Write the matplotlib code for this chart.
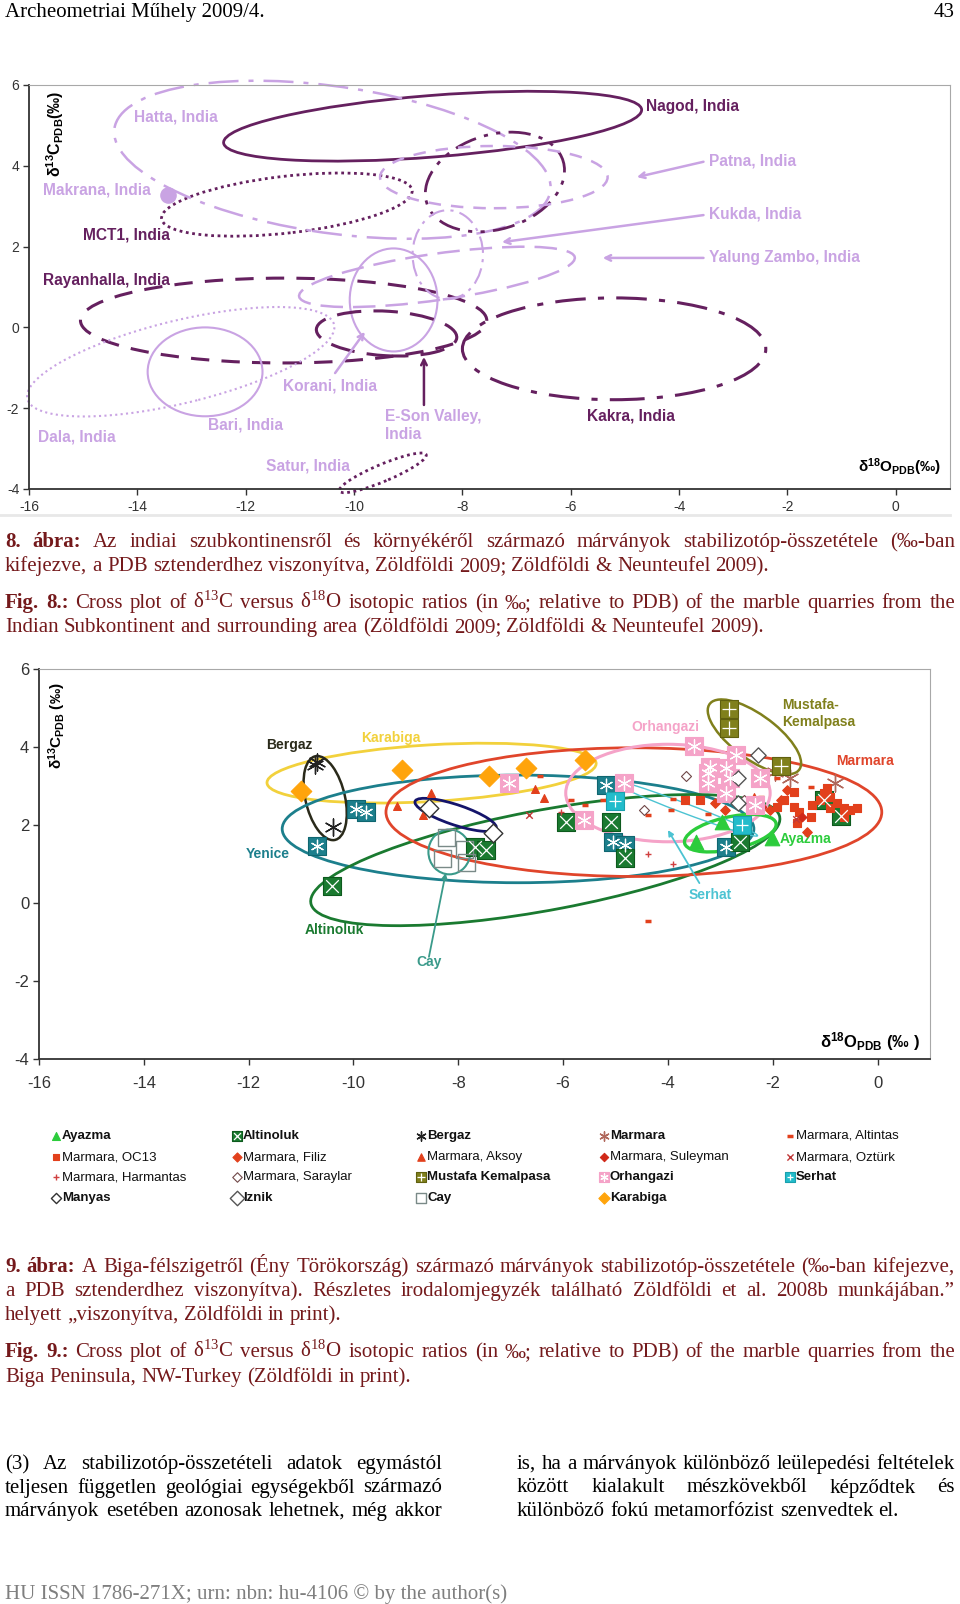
import matplotlib
matplotlib.use('Agg')
import matplotlib.pyplot as plt
from matplotlib.patches import Ellipse
from matplotlib.lines import Line2D

plt.rcParams['axes.unicode_minus'] = False
plt.rcParams['mathtext.default'] = 'regular'

SERIF = ['Liberation Serif', 'DejaVu Serif']
SANS = ['Liberation Sans', 'DejaVu Sans']
NARROW = ['Liberation Sans Narrow', 'Liberation Sans', 'DejaVu Sans']

# ---- Fig. 8 data: Indian quarries (ellipse fields, d18O / d13C) ----
ind_x = [-8.55, -11.24, -10.4, -11.3, -13.2, -12.75, -9.47, -9.27, -9.4, -5.2, -7.4, -7.42, -8.27, -8.47]
ind_y = [4.98, 3.04, 4.15, 0.17, -0.85, -1.1, -3.6, 0.68, -0.15, -0.53, 3.6, 3.72, 1.8, 1.25]
ind_w = [7.76, 4.68, 8.2, 7.5, 5.96, 2.12, 1.84, 1.62, 2.6, 5.6, 2.8, 4.2, 1.3, 5.18]
ind_h = [1.52, 1.4, 3.6, 2.1, 2.0, 2.2, 0.4, 2.55, 1.1, 2.52, 2.2, 1.54, 2.2, 1.14]
ind_ang = [6.2, 9, -12, 0, 19, 0, 30, 0, -5, 0, 40, 0, 0, 11]
makrana_x = [-13.44]
makrana_y = [3.28]

ind_labels = ['Hatta, India', 'Nagod, India', 'Patna, India', 'Makrana, India', 'Kukda, India',
              'MCT1, India', 'Yalung Zambo, India', 'Rayanhalla, India', 'Korani, India',
              'Bari, India', 'E-Son Valley,\nIndia', 'Kakra, India', 'Dala, India', 'Satur, India']

# ---- Fig. 9 data: Biga Peninsula quarries ----
ayazma_x = [-3.47, -2.96, -2.01]
ayazma_y = [1.56, 2.08, 1.67]
altinoluk_x = [-10.41, -7.69, -7.48, -5.94, -5.09, -4.82, -2.62, -1.02, -0.70]
altinoluk_y = [0.44, 1.44, 1.36, 2.08, 2.08, 1.15, 1.56, 2.64, 2.23]
bergaz_x = [-10.73, -10.70, -10.39]
bergaz_y = [3.54, 3.62, 1.95]
yenice_x = [-9.95, -9.76, -10.70, -5.18, -5.05, -4.82, -2.90]
yenice_y = [2.41, 2.33, 1.46, 3.03, 1.56, 1.49, 1.44]
marmara_x = [-1.67, -0.81, -1.95]
marmara_y = [3.21, 3.08, 3.35]
altintas_x = [-6.44, -5.85, -5.58, -5.24, -3.95, -3.91, -4.38, -3.24, -2.22, -1.91, -1.28, -4.38]
altintas_y = [3.26, 2.64, 2.51, 2.64, 2.38, 2.67, -0.46, 2.28, 2.72, 3.21, 2.97, 2.26]
oc13_x = [-3.68, -3.38, -1.59, -1.49, -1.25, -1.1, -1.02, -0.9, -0.77, -0.64, -0.52, -0.39,
          -0.9, -0.96, -1.28, -1.53, -1.78, -1.91, -1.59, -0.64]
oc13_y = [2.64, 2.64, 2.46, 2.33, 2.51, 2.64, 2.82, 2.72, 2.56, 2.44, 2.38, 2.44,
          2.44, 2.95, 2.21, 2.05, 2.64, 2.46, 2.85, 2.21]
filiz_x = [-2.92, -3.11, -1.34, -1.72, -2.05, -1.85]
filiz_y = [2.38, 2.56, 1.82, 2.9, 2.38, 2.64]
aksoy_x = [-8.53, -9.17, -8.68, -6.53, -6.36, -2.35]
aksoy_y = [2.82, 2.49, 2.26, 2.92, 2.69, 2.72]
suleyman_x = [-2.2, -1.45]
suleyman_y = [2.45, 2.2]
ozturk_x = [-6.65, -1.55]
ozturk_y = [2.26, 2.15]
harmantas_x = [-4.38, -3.91, -6.04]
harmantas_y = [1.26, 1.0, 2.33]
saraylar_x = [-4.46, -3.66, -2.54]
saraylar_y = [2.38, 3.26, 2.64]
mustafa_x = [-2.84, -2.84, -1.84]
mustafa_y = [4.97, 4.49, 3.51]
orhangazi_x = [-7.03, -5.6, -4.84, -3.51, -2.71, -3.24, -2.90, -3.24, -2.90, -2.81, -2.25, -2.33, -3.19]
orhangazi_y = [3.08, 2.13, 3.08, 4.03, 3.79, 3.33, 3.46, 3.08, 2.82, 3.21, 3.21, 2.51, 3.49]
serhat_x = [-5.01, -2.58]
serhat_y = [2.62, 2.0]
manyas_x = [-8.55, -7.33]
manyas_y = [2.44, 1.79]
iznik_x = [-2.29, -2.67, -2.67]
iznik_y = [3.79, 3.21, 2.56]
cay_x = [-8.22, -8.3, -7.88, -7.84]
cay_y = [1.67, 1.15, 1.36, 1.05]
karabiga_x = [-11.0, -9.08, -7.41, -6.70, -5.58]
karabiga_y = [2.87, 3.41, 3.26, 3.46, 3.67]

biga_ell_names = ['Karabiga', 'Bergaz', 'Yenice', 'Altinoluk', 'Marmara', 'Manyas', 'Cay',
                  'Orhangazi', 'Mustafa', 'Ayazma', 'Serhat']
biga_ell_x = [-8.51, -10.54, -6.86, -6.34, -4.65, -8.05, -8.17, -4.0, -2.35, -2.81, -3.7]
biga_ell_y = [3.33, 2.69, 1.9, 1.1, 2.33, 2.26, 1.31, 2.82, 4.26, 1.79, 2.44]
biga_ell_w = [6.3, 0.76, 9.0, 9.22, 9.46, 1.7, 0.8, 3.9, 2.42, 1.82, 3.16]
biga_ell_h = [1.45, 2.18, 2.76, 2.54, 3.3, 0.5, 1.15, 2.5, 1.0, 0.82, 0.24]
biga_ell_ang = [4.7, 9, 0, 14.4, 0, -25, 0, 0, -48, 18, -27]

biga_labels = ['Bergaz', 'Karabiga', 'Yenice', 'Altinoluk', 'Cay', 'Orhangazi',
               'Mustafa-\nKemalpasa', 'Marmara', 'Serhat', 'Ayazma']

# ---------------- styles ----------------
DARK = '#65205f'
LIGHT = '#c9a3e3'
ind_col = [DARK, DARK, LIGHT, DARK, LIGHT, LIGHT, DARK, LIGHT, DARK, DARK, DARK, LIGHT, LIGHT, LIGHT]
ind_ls = ['-', (0, (1, 1.3)), (0, (12, 4, 2, 4)), (0, (6, 4)), (0, (1, 1.6)), '-', (0, (1, 1.3)), '-',
          (0, (8, 4)), (0, (10, 4, 2, 4)), (0, (8, 3, 1.5, 3, 1.5, 3)), (0, (5, 4)),
          (0, (8, 3, 1.5, 3)), (0, (9, 4))]
ind_lw = [2, 2, 1.8, 2.2, 1.5, 1.5, 2, 1.5, 2.2, 2.2, 2, 1.8, 1.5, 1.8]
ind_lab_pos = [(-14.06, 5.21), (-4.62, 5.46), (-3.45, 4.12), (-15.74, 3.4), (-3.45, 2.81),
               (-15.0, 2.29), (-3.45, 1.72), (-15.74, 1.17), (-11.31, -1.45), (-12.7, -2.42),
               (-9.43, -2.43), (-5.7, -2.2), (-15.83, -2.71), (-11.63, -3.43)]
ind_lab_col = [LIGHT, DARK, LIGHT, LIGHT, LIGHT, DARK, LIGHT, DARK, LIGHT, LIGHT, LIGHT, DARK, LIGHT, LIGHT]
ind_arrows = [((-3.55, 4.1), (-4.78, 3.72), LIGHT), ((-3.55, 2.78), (-7.27, 2.11), LIGHT),
              ((-3.55, 1.72), (-5.41, 1.72), LIGHT), ((-10.35, -1.13), (-9.8, -0.11), LIGHT),
              ((-8.71, -1.92), (-8.71, -0.73), DARK)]

C_KARA = '#f2d13c'
C_BERG = '#2a2a1a'
C_YEN = '#1c7f8c'
C_ALT = '#1a7a30'
C_MAR = '#e0452b'
C_NAVY = '#14146a'
C_CAY = '#3a9a8a'
C_ORH = '#f5a3c8'
C_MUS = '#80801c'
C_AYA = '#2ccc3c'
C_SER = '#4cc3d2'
ell_col = [C_KARA, C_BERG, C_YEN, C_ALT, C_MAR, C_NAVY, C_CAY, C_ORH, C_MUS, C_AYA, C_SER]
ell_lw = [2, 1.8, 2, 2, 2, 2, 1.5, 2.2, 1.8, 2.4, 1]
biga_lab_pos = [(-11.67, 4.05), (-9.86, 4.23), (-12.05, 1.26), (-10.94, -0.69), (-8.8, -1.51),
                (-4.69, 4.51), (-1.82, 4.86), (-0.79, 3.64), (-3.6, 0.2), (-1.87, 1.64)]
biga_lab_col = [C_BERG, C_KARA, C_YEN, C_ALT, C_CAY, C_ORH, C_MUS, C_MAR, C_SER, C_AYA]
biga_arrows = [((-8.56, -1.38), (-8.24, 0.77), C_CAY), ((-3.4, 0.51), (-4.0, 1.87), C_SER)]

RED = '#e2401c'
STYLE = {
    'Ayazma': dict(m='^', s=110, fc=C_AYA, ec=C_AYA),
    'Altinoluk': dict(m='s', s=150, fc=C_ALT, ec='#0d5a1d', inner='x'),
    'Bergaz': dict(m=(6, 2, 0), s=150, fc='line', ec='#222222', lw=1),
    'Yenice': dict(m='s', s=150, fc=C_YEN, ec='#0f6670', inner=(6, 2, 0)),
    'Marmara': dict(m=(6, 2, 0), s=150, fc='line', ec='#b0685c', lw=1),
    'Marmara, Altintas': dict(m='_', s=25, fc='line', ec=RED, lw=2.5),
    'Marmara, OC13': dict(m='s', s=28, fc=RED, ec=RED),
    'Marmara, Filiz': dict(m='D', s=24, fc=RED, ec=RED),
    'Marmara, Aksoy': dict(m='^', s=32, fc=RED, ec=RED),
    'Marmara, Suleyman': dict(m='D', s=20, fc='#d02818', ec='#d02818'),
    'Marmara, Oztürk': dict(m='x', s=22, fc='line', ec='#c03838', lw=1),
    'Marmara, Harmantas': dict(m='+', s=22, fc='line', ec='#d04040', lw=1),
    'Marmara, Saraylar': dict(m='D', s=26, fc='white', ec='#704848', lw=0.8),
    'Mustafa Kemalpasa': dict(m='s', s=170, fc=C_MUS, ec='#60600f', inner='+'),
    'Orhangazi': dict(m='s', s=170, fc=C_ORH, ec=C_ORH, inner=(6, 2, 0)),
    'Serhat': dict(m='s', s=150, fc='#22bccb', ec='#1aa0ad', inner='+'),
    'Manyas': dict(m='D', s=90, fc='white', ec='#333333', lw=1),
    'Iznik': dict(m='D', s=60, fc='white', ec='#555555', lw=1),
    'Cay': dict(m='s', s=150, fc='none', ec='#7a8a88', lw=1),
    'Karabiga': dict(m='D', s=110, fc='#ffa40c', ec='#ffa40c'),
}

groups = [('Ayazma', ayazma_x, ayazma_y), ('Altinoluk', altinoluk_x, altinoluk_y),
          ('Bergaz', bergaz_x, bergaz_y), ('Marmara', marmara_x, marmara_y),
          ('Marmara, Altintas', altintas_x, altintas_y), ('Marmara, OC13', oc13_x, oc13_y),
          ('Marmara, Filiz', filiz_x, filiz_y), ('Marmara, Aksoy', aksoy_x, aksoy_y),
          ('Marmara, Suleyman', suleyman_x, suleyman_y), ('Marmara, Oztürk', ozturk_x, ozturk_y),
          ('Marmara, Harmantas', harmantas_x, harmantas_y), ('Marmara, Saraylar', saraylar_x, saraylar_y),
          ('Mustafa Kemalpasa', mustafa_x, mustafa_y), ('Orhangazi', orhangazi_x, orhangazi_y),
          ('Serhat', serhat_x, serhat_y), ('Manyas', manyas_x, manyas_y), ('Iznik', iznik_x, iznik_y),
          ('Cay', cay_x, cay_y), ('Karabiga', karabiga_x, karabiga_y)]
legend_bold = ['Ayazma', 'Altinoluk', 'Bergaz', 'Marmara', 'Mustafa Kemalpasa', 'Orhangazi',
               'Serhat', 'Manyas', 'Iznik', 'Cay', 'Karabiga']

W, H = 960, 1604
fig = plt.figure(figsize=(9.6, 16.04), dpi=100)
renderer = fig.canvas.get_renderer()


def draw_marks(ax, xs, ys, st, scale=1.0, z=4):
    if st['fc'] == 'line':
        ax.scatter(xs, ys, marker=st['m'], s=st['s'] * scale, c=st['ec'], linewidths=st.get('lw', 1), zorder=z, clip_on=False)
    else:
        ax.scatter(xs, ys, marker=st['m'], s=st['s'] * scale, facecolors=st['fc'], edgecolors=st['ec'],
                   linewidths=st.get('lw', 0.8), zorder=z, clip_on=False)
    if st.get('inner') is not None:
        ax.scatter(xs, ys, marker=st['inner'], s=st['s'] * scale * 0.55, c='white', linewidths=0.9, zorder=z + 1, clip_on=False)


def style_axes(ax, tick_font, tick_size, xpad):
    ax.set_xlim(-16, 1)
    ax.set_ylim(-4, 6)
    ax.set_xticks(range(-16, 1, 2))
    ax.set_yticks(range(-4, 7, 2))
    ax.tick_params(direction='out', length=4, width=1, color='#333333', labelcolor='#333333',
                   labelsize=tick_size, pad=3)
    ax.tick_params(axis='x', pad=xpad)
    for lab in ax.get_xticklabels() + ax.get_yticklabels():
        lab.set_family(tick_font)
    for s in ['top', 'right']:
        ax.spines[s].set_color('#a8a8a8')
    for s in ['left', 'bottom']:
        ax.spines[s].set_color('#333333')
        ax.spines[s].set_linewidth(1.3)


# ---------------- Fig. 8 chart ----------------
ax1 = fig.add_axes([29 / W, 1 - 489 / H, 921 / W, 404 / H])
style_axes(ax1, SANS, 10, 4)
for i in range(len(ind_x)):
    ax1.add_patch(Ellipse((ind_x[i], ind_y[i]), ind_w[i], ind_h[i], angle=ind_ang[i], fill=False,
                          ec=ind_col[i], ls=ind_ls[i], lw=ind_lw[i], clip_on=False, zorder=2))
ax1.scatter(makrana_x, makrana_y, s=120, c=LIGHT, zorder=3)
for lab, (lx, ly), c in zip(ind_labels, ind_lab_pos, ind_lab_col):
    ax1.text(lx, ly, lab, color=c, fontsize=11.2, fontweight='bold', family=SANS, ha='left',
             va='center', linespacing=1.25)
for (sx, sy), (tx, ty), c in ind_arrows:
    ax1.annotate('', xy=(tx, ty), xytext=(sx, sy),
                 arrowprops=dict(arrowstyle='->', color=c, lw=1.8, mutation_scale=10, shrinkA=0, shrinkB=0))
ax1.text(0.028, 0.985, r'$δ^{13}C_{PDB}$(‰)', transform=ax1.transAxes, rotation=90, ha='center', va='top',
         fontsize=11.5, fontweight='bold', family=SANS)
ax1.text(0.991, 0.054, r'$δ^{18}O_{PDB}$(‰)', transform=ax1.transAxes, ha='right', va='center',
         fontsize=11, fontweight='bold', family=SANS)
fig.add_artist(Line2D([0, 950 / W], [1 - 515 / H, 1 - 515 / H], color='#e8e8e8', lw=2))

# ---------------- Fig. 9 chart ----------------
ax2 = fig.add_axes([39 / W, 1 - 1059 / H, 891 / W, 390 / H])
style_axes(ax2, NARROW, 12, 8)
for i in range(len(biga_ell_x)):
    ax2.add_patch(Ellipse((biga_ell_x[i], biga_ell_y[i]), biga_ell_w[i], biga_ell_h[i], angle=biga_ell_ang[i],
                          fill=False, ec=ell_col[i], lw=ell_lw[i], zorder=2))
draw_marks(ax2, yenice_x, yenice_y, STYLE['Yenice'])
for name, xs, ys in groups:
    draw_marks(ax2, xs, ys, STYLE[name])
for lab, (lx, ly), c in zip(biga_labels, biga_lab_pos, biga_lab_col):
    ax2.text(lx, ly, lab, color=c, fontsize=10, fontweight='bold', family=NARROW, ha='left', va='center',
             linespacing=1.2, zorder=3)
for (sx, sy), (tx, ty), c in biga_arrows:
    ax2.annotate('', xy=(tx, ty), xytext=(sx, sy),
                 arrowprops=dict(arrowstyle='-|>', color=c, lw=1.3, mutation_scale=8, shrinkA=0, shrinkB=0))
ax2.text(0.02, 0.967, r'$δ^{13}C_{PDB}$ (‰)', transform=ax2.transAxes, rotation=90, ha='center', va='top',
         fontsize=11, fontweight='bold', family=NARROW)
ax2.text(0.989, 0.044, r'$δ^{18}O_{PDB}$ (‰ )', transform=ax2.transAxes, ha='right', va='center',
         fontsize=12, fontweight='bold', family=NARROW)

# legend (5 columns x 4 rows, like the original figure)
axl = fig.add_axes([0, 1 - 1212 / H, 1, 90 / H])
axl.set_xlim(0, W)
axl.set_ylim(1212, 1122)
axl.axis('off')
col_x = [56, 237, 421, 604, 790]
row_y = [1136, 1157, 1177, 1198]
for k, (name, xs, ys) in enumerate(groups):
    cx, cy = col_x[k % 5], row_y[k // 5]
    st = STYLE[name]
    sc = 0.3 if st['s'] > 60 else 0.9
    draw_marks(axl, [cx], [cy], st, scale=sc)
    axl.text(cx + 6, cy, name, fontsize=9.5, family=NARROW, va='center', ha='left',
             fontweight='bold' if name in legend_bold else 'normal', color='#111111')


# ---------------- page text ----------------
TXT = 15


def put_line(runs, base, x0, x1, justify=True, size=TXT):
    words = []
    for txt, weight, color in runs:
        for w in txt.split():
            words.append((w, weight, color))
    arts, widths = [], []
    for w, weight, color in words:
        t = fig.text(0, 1 - base / H, w, fontsize=size, family=SERIF, fontweight=weight, color=color,
                     ha='left', va='baseline')
        arts.append(t)
        widths.append(t.get_window_extent(renderer).width)
    if justify and len(words) > 1:
        gap = (x1 - x0 - sum(widths)) / (len(words) - 1)
    else:
        gap = size * 100 / 72 * 0.25
    x = x0
    for t, wd in zip(arts, widths):
        t.set_x(x / W)
        x += wd + gap


MAROON = '#74191b'
fig.text(5 / W, 1 - 17 / H, 'Archeometriai Műhely 2009/4.', fontsize=TXT, family=SERIF, va='baseline')
fig.text(955 / W, 1 - 17 / H, '43', fontsize=TXT, family=SERIF, va='baseline', ha='right')

L, R = 5, 955
put_line([('8. ábra:', 'bold', MAROON),
          ('Az indiai szubkontinensről és környékéről származó márványok stabilizotóp-összetétele (‰-ban', 'normal', MAROON)],
         547, L, R)
put_line([('kifejezve, a PDB sztenderdhez viszonyítva, Zöldföldi 2009; Zöldföldi & Neunteufel 2009).', 'normal', MAROON)],
         571, L, R, justify=False)
put_line([('Fig. 8.:', 'bold', MAROON),
          ('Cross plot of δ$^{13}$C versus δ$^{18}$O isotopic ratios (in ‰; relative to PDB) of the marble quarries from the', 'normal', MAROON)],
         608, L, R)
put_line([('Indian Subkontinent and surrounding area (Zöldföldi 2009; Zöldföldi & Neunteufel 2009).', 'normal', MAROON)],
         632, L, R, justify=False)

put_line([('9. ábra:', 'bold', MAROON),
          ('A Biga-félszigetről (Ény Törökország) származó márványok stabilizotóp-összetétele (‰-ban kifejezve,', 'normal', MAROON)],
         1272, L, R)
put_line([('a PDB sztenderdhez viszonyítva). Részletes irodalomjegyzék található Zöldföldi et al. 2008b munkájában.”', 'normal', MAROON)],
         1296, L, R)
put_line([('helyett „viszonyítva, Zöldföldi in print).', 'normal', MAROON)], 1320, L, R, justify=False)
put_line([('Fig. 9.:', 'bold', MAROON),
          ('Cross plot of δ$^{13}$C versus δ$^{18}$O isotopic ratios (in ‰; relative to PDB) of the marble quarries from the', 'normal', MAROON)],
         1357, L, R)
put_line([('Biga Peninsula, NW-Turkey (Zöldföldi in print).', 'normal', MAROON)], 1382, L, R, justify=False)

body_left = ['(3) Az stabilizotóp-összetételi adatok egymástól',
             'teljesen független geológiai egységekből származó',
             'márványok esetében azonosak lehetnek, még akkor']
body_right = ['is, ha a márványok különböző leülepedési feltételek',
              'között kialakult mészkövekből képződtek és',
              'különböző fokú metamorfózist szenvedtek el.']
for i, line in enumerate(body_left):
    put_line([(line, 'normal', 'black')], 1469 + i * 23.5, 5, 442)
for i, line in enumerate(body_right):
    put_line([(line, 'normal', 'black')], 1469 + i * 23.5, 517, 955, justify=(i < 2))

fig.text(5 / W, 1 - 1599 / H, 'HU ISSN 1786-271X; urn: nbn: hu-4106 © by the author(s)', fontsize=TXT,
         family=SERIF, color='#7f7f7f', va='baseline')

fig.savefig('out.png', dpi=100)
